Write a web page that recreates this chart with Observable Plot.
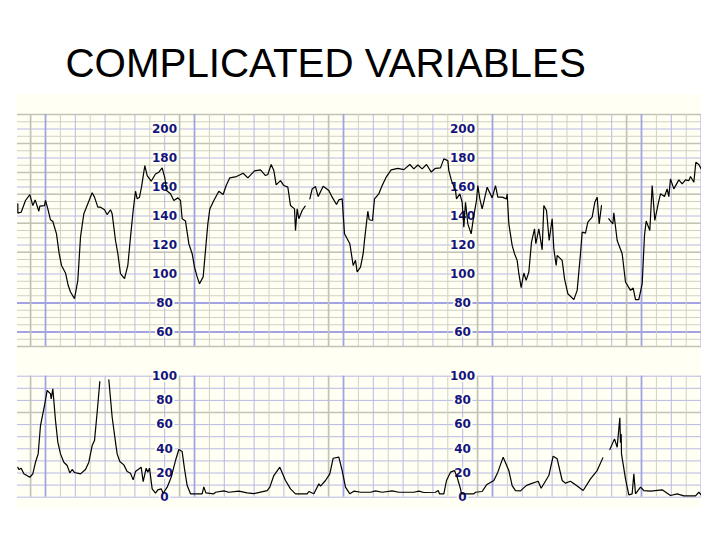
<!DOCTYPE html>
<html>
<head>
<meta charset="utf-8">
<script src="https://cdn.jsdelivr.net/npm/d3@7"></script>
<script src="https://cdn.jsdelivr.net/npm/@observablehq/plot@0.6"></script>
<style>
  html, body { margin: 0; padding: 0; background: #fff; }
  #title { box-sizing: border-box; height: 94px; padding: 43.5px 0 0 65.5px; font: 40.3px/40px "Liberation Sans", Arial, sans-serif; color: #000; white-space: nowrap; }
  #charts { margin-left: 17px; width: 684px; }
  #charts svg { display: block; }
</style>
</head>
<body>
<div id="title">COMPLICATED VARIABLES</div>
<div id="charts"></div>
<script>
const heartRateLabels = [200, 180, 160, 140, 120, 100, 80, 60];
const activityLabels = [100, 80, 60, 40, 20, 0];
const labelTimes = [492, 1386];

const heartRate = [[52,148.4],[52,142],[62,142.6],[75,150.7],[88,154.8],[97,147.2],[104,151.1],[115,143.3],[118,146.8],[132,147.2],[135,150.7],[142,144.9],[150,137.4],[157,136.2],[168,127.7],[176,114],[183,105.9],[195,100.7],[203,92.2],[210,87.6],[222,83],[232,95.6],[240,125.4],[245,133.5],[250,141.5],[262,148.4],[275,156],[282,153],[292,146.1],[300,146.1],[312,144.3],[320,141],[330,144.3],[335,141.5],[345,123.1],[352,114],[360,100.2],[372,96.8],[382,105.9],[390,125.4],[398,143.8],[405,157.1],[410,151.8],[417,153],[423,159.9],[433,174.8],[440,167.9],[452,164],[465,169],[475,170.2],[485,173.2],[493,166.3],[498,157.6],[510,155.3],[520,150.7],[532,152.5],[540,150.7],[545,138.1],[555,136.5],[565,120.9],[575,114],[582,104.8],[590,98],[597,93.3],[608,98],[615,116.3],[622,134.6],[628,144.9],[640,150.7],[655,157.1],[668,154.8],[677,161],[688,166.3],[708,167.2],[728,169.5],[742,166.3],[762,171.1],[780,171.8],[795,167.9],[802,168.6],[812,175.5],[820,171.3],[827,161.5],[840,164.4],[850,161],[862,159.9],[870,147.2],[882,144.9],[885,130],[890,144.9],[895,138.1],[905,143.8],[914,146.8],[920,null],[928,151.8],[935,158.7],[945,160.3],[953,153.4],[968,160.5],[985,157.6],[995,153],[1008,147.9],[1015,151.1],[1025,151.8],[1032,127.7],[1048,120.9],[1058,105.9],[1065,109.4],[1070,101.4],[1080,104.8],[1088,114],[1092,123.2],[1102,143.3],[1106,137.4],[1116,136.9],[1122,151.8],[1135,155.3],[1145,161],[1158,167.2],[1172,171.8],[1192,172.9],[1210,172],[1228,175.5],[1240,172.5],[1252,175.2],[1265,172.5],[1278,175.5],[1292,170.4],[1305,172.9],[1320,173.2],[1330,179.4],[1342,178.2],[1345,171.3],[1353,164.4],[1365,157.6],[1368,151.8],[1378,155.3],[1385,149.5],[1390,132.3],[1395,149.5],[1402,134.6],[1412,127.7],[1420,140.4],[1428,150.7],[1432,161],[1438,151.8],[1445,144.9],[1460,159.9],[1475,152.5],[1485,161],[1492,153],[1505,153],[1518,151.8],[1520,155.3],[1525,134.6],[1535,119.7],[1542,114],[1550,109.4],[1555,100.2],[1562,90.6],[1570,100.7],[1577,95.6],[1585,101.4],[1593,122],[1602,131.2],[1606,120.9],[1615,131.2],[1625,116.7],[1630,147.2],[1638,143.8],[1646,123.1],[1655,138.1],[1660,117.4],[1667,105.9],[1670,112.8],[1685,109.4],[1692,96.8],[1702,86.4],[1720,82.3],[1730,88.7],[1740,114],[1745,128.9],[1755,128.2],[1762,135.8],[1775,139.2],[1783,149.5],[1790,153],[1796,134.6],[1803,147.2],[1815,null],[1825,138.1],[1837,134.6],[1840,142.2],[1850,123.1],[1865,114],[1875,94.5],[1890,88.7],[1898,90.3],[1905,82.3],[1915,82.3],[1925,93.3],[1932,126.6],[1937,136.5],[1948,130],[1955,161],[1963,136.9],[1973,148.4],[1980,155.3],[1992,153.4],[2000,158.7],[2005,153.4],[2010,165.6],[2020,158.7],[2035,164.9],[2045,162.1],[2055,164.9],[2065,164.4],[2070,167.2],[2080,163.3],[2086,177.1],[2095,175.5],[2102,172.5]];

const activity = [[52,24.8],[55,22.9],[62,24],[70,19.3],[88,16.5],[97,19.3],[105,28.9],[113,35.8],[120,59.2],[132,75.8],[140,88.2],[150,85.4],[152,81.3],[157,89.5],[165,63.4],[172,45.5],[180,35.8],[190,28.9],[200,26.2],[208,20.1],[215,22.9],[222,20.4],[240,19.3],[255,22.9],[265,28.9],[275,42.7],[282,46.8],[290,70.2],[298,95.6],[310,null],[325,97],[335,66.1],[345,45.5],[350,35.8],[358,29.5],[370,26.7],[380,21.2],[390,19.8],[398,14.3],[405,21.2],[422,24.8],[428,12.9],[437,24],[442,20.7],[447,24],[455,6.9],[465,3.3],[472,6.1],[482,6.9],[488,3.3],[500,8.3],[512,16.5],[525,30.3],[535,39.4],[545,37.7],[552,23.4],[560,9.6],[570,2.8],[605,2.8],[610,8.5],[616,3.6],[640,2.8],[645,4.1],[670,5.2],[685,4.1],[715,5],[740,3.6],[760,3],[800,5.5],[808,8.3],[820,17.9],[838,24.8],[855,13.8],[870,6.9],[885,2.8],[920,2.8],[925,4.7],[940,2.8],[955,11],[960,9.1],[975,13.8],[988,19.3],[998,32.2],[1015,33.1],[1025,22],[1035,8.3],[1048,2.8],[1060,5],[1081,4.1],[1110,4.1],[1125,5.2],[1145,4.1],[1175,5.2],[1195,4.1],[1240,4.1],[1255,5],[1270,3.9],[1305,4.1],[1313,5.5],[1317,2.8],[1330,2.8],[1338,13.8],[1350,20.7],[1362,22],[1370,16.5],[1380,6.9],[1383,2.8],[1420,2.8],[1425,4.1],[1445,4.7],[1458,10.2],[1480,13.8],[1492,20.7],[1508,33.1],[1525,22],[1535,9.6],[1545,5.5],[1560,5.2],[1577,9.6],[1590,11],[1613,13.2],[1622,7.4],[1645,17.9],[1658,33.9],[1670,31.7],[1685,13.8],[1695,11.6],[1710,13.2],[1728,9.6],[1748,5.5],[1770,15.2],[1790,22],[1807,32.5],[1815,null],[1828,39.4],[1842,48.2],[1850,41.3],[1858,65.6],[1860,45],[1862,52.3],[1863,35.8],[1875,15.2],[1885,1.9],[1895,2.8],[1900,19.3],[1905,2.8],[1920,8.3],[1930,5.5],[1950,5],[1985,6.1],[2010,1.4],[2030,2.8],[2050,1.1],[2085,1.1],[2095,4.1],[2102,1.9]];

const timeDomain = [51, 2103];
const gridStep = 44.7;
const gridStart = 135;
const verticalAll = d3.range(-1, 45);
const tAt = (i) => gridStart + gridStep * i;
const thickBlue = verticalAll.filter((i) => i % 10 === 0).map(tAt);
const thickGray = verticalAll.filter((i) => ((i % 10) + 10) % 10 === 9).map(tAt);
const thinBlue = verticalAll.filter((i) => i % 2 === 0 && i % 10 !== 0).map(tAt);
const thinTan = verticalAll.filter((i) => ((i % 2) + 2) % 2 === 1 && ((i % 10) + 10) % 10 !== 9).map(tAt);

const CREAM = "#fffff3";
const BLUE = "#a3a3e3";
const THIN_BLUE = "#b8b8e6";
const TAN = "#d0d0c4";
const GRAY = "#c2c2b6";
const NAVY = "#14147f";

function verticalRules() {
  return [
    Plot.ruleX(thinTan, {stroke: TAN, strokeWidth: 1}),
    Plot.ruleX(thinBlue, {stroke: THIN_BLUE, strokeWidth: 1}),
    Plot.ruleX([2102], {stroke: THIN_BLUE, strokeWidth: 1}),
    Plot.ruleX(thickGray, {stroke: GRAY, strokeWidth: 1.7}),
    Plot.ruleX(thickBlue, {stroke: BLUE, strokeWidth: 1.8})
  ];
}

function labelMark(values) {
  return labelTimes.map((t) => Plot.text(values, {
    x: () => t, y: (d) => d, text: (d) => String(d),
    fill: NAVY, stroke: CREAM, strokeWidth: 4, paintOrder: "stroke",
    fontFamily: "DejaVu Sans", fontWeight: "bold", fontSize: 12, textAnchor: "middle"
  }));
}

const traceOptions = {
  x: (d) => d[0], y: (d) => d[1], stroke: "#000", strokeWidth: 1.2,
  curve: "linear", strokeLinejoin: "miter"
};

const heartRateChart = Plot.plot({
  width: 684, height: 255,
  marginTop: 20, marginBottom: 3, marginLeft: 0, marginRight: 0,
  style: {background: CREAM},
  x: {domain: timeDomain, axis: null},
  y: {domain: [50, 210], axis: null},
  marks: [
    Plot.ruleY(d3.range(50, 211, 5).filter((v) => v % 20 !== 0), {stroke: TAN, strokeWidth: 1}),
    Plot.ruleY([120, 140, 160, 180, 200, 100], {stroke: THIN_BLUE, strokeWidth: 1}),
    Plot.ruleY([210, 190, 170, 155, 135, 115, 50], {stroke: GRAY, strokeWidth: 1.7}),
    Plot.ruleY([80, 60], {stroke: BLUE, strokeWidth: 1.8}),
    ...verticalRules(),
    ...labelMark(heartRateLabels),
    Plot.line(heartRate, traceOptions)
  ]
});

const activityChart = Plot.plot({
  width: 684, height: 159,
  marginTop: 26.7, marginBottom: 11.3, marginLeft: 0, marginRight: 0,
  style: {background: CREAM},
  x: {domain: timeDomain, axis: null},
  y: {domain: [0, 100], axis: null},
  marks: [
    Plot.ruleY(d3.range(0, 101, 10), {stroke: THIN_BLUE, strokeWidth: 1}),
    Plot.ruleY([70], {stroke: GRAY, strokeWidth: 1.7}),
    ...verticalRules(),
    ...labelMark(activityLabels),
    Plot.line(activity, traceOptions)
  ]
});

document.getElementById("charts").append(heartRateChart, activityChart);
</script>
</body>
</html>
